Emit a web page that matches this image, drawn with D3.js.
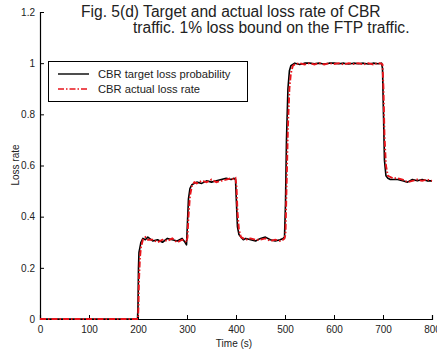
<!DOCTYPE html>
<html>
<head>
  <meta charset="utf-8">
  <title>Loss rate</title>
  <script src="https://d3js.org/d3.v7.min.js"></script>
  <style>
    body { margin: 0; background: #fff; }
    text { font-family: "Liberation Sans", Arial, sans-serif; fill: #222; }
  </style>
</head>
<body>
<script>
var time = [0, 100, 199, 200, 201, 202, 204, 206, 210, 215, 220, 230, 240, 250, 260, 270, 280, 290, 296, 299,
            301, 303, 306, 310, 315, 320, 330, 340, 350, 360, 370, 380, 390, 396, 399,
            401, 403, 406, 410, 415, 420, 430, 440, 450, 460, 470, 480, 490, 496, 499,
            501, 503, 506, 509, 512, 516, 520, 530, 540, 550, 560, 570, 580, 590, 600, 610, 620, 630, 640, 650, 660, 670, 680, 690, 697, 699,
            701, 703, 706, 710, 715, 720, 730, 740, 750, 760, 770, 780, 790, 800];

var targetLoss = [0, 0, 0, 0.05, 0.2, 0.26, 0.28, 0.30, 0.315, 0.31, 0.32, 0.305, 0.31, 0.30, 0.315, 0.31, 0.305, 0.315, 0.30, 0.29,
                  0.38, 0.47, 0.51, 0.525, 0.53, 0.535, 0.53, 0.54, 0.535, 0.54, 0.545, 0.55, 0.545, 0.55, 0.545,
                  0.45, 0.36, 0.33, 0.32, 0.31, 0.315, 0.31, 0.305, 0.315, 0.32, 0.31, 0.305, 0.31, 0.315, 0.32,
                  0.45, 0.7, 0.9, 0.97, 0.99, 0.995, 1.0, 0.995, 1.0, 1.0, 0.998, 1.0, 0.997, 1.0, 1.0, 0.998, 1.0, 0.997, 1.0, 0.998, 1.0, 0.997, 1.0, 0.998, 1.0, 0.98,
                  0.8, 0.62, 0.56, 0.55, 0.545, 0.545, 0.545, 0.54, 0.535, 0.545, 0.54, 0.545, 0.54, 0.54];

var actualLoss = [0, 0, 0, 0, 0.05, 0.15, 0.24, 0.28, 0.31, 0.32, 0.31, 0.31, 0.30, 0.31, 0.305, 0.315, 0.30, 0.31, 0.305, 0.30,
                  0.32, 0.40, 0.48, 0.52, 0.535, 0.53, 0.54, 0.535, 0.545, 0.535, 0.54, 0.545, 0.55, 0.545, 0.55,
                  0.52, 0.42, 0.35, 0.32, 0.315, 0.31, 0.315, 0.31, 0.31, 0.315, 0.305, 0.31, 0.305, 0.31, 0.315,
                  0.33, 0.5, 0.75, 0.9, 0.96, 0.99, 0.995, 1.0, 0.995, 1.0, 0.995, 1.0, 0.995, 1.0, 0.997, 1.0, 0.995, 1.0, 0.997, 1.0, 0.995, 1.0, 0.995, 1.0, 0.998, 0.995,
                  0.9, 0.72, 0.6, 0.56, 0.555, 0.55, 0.55, 0.545, 0.535, 0.54, 0.545, 0.54, 0.545, 0.54];

var xTicks = [0, 100, 200, 300, 400, 500, 600, 700, 800];
var yTicks = [0, 0.2, 0.4, 0.6, 0.8, 1, 1.2];
var seriesNames = ["CBR target loss probability", "CBR actual loss rate"];

var W = 437, H = 353;
var svg = d3.select("body").append("svg").attr("width", W).attr("height", H);

var x = d3.scaleLinear().domain([0, 800]).range([40, 432]);
var y = d3.scaleLinear().domain([0, 1.2]).range([319, 12]);

// axes, ticks pointing inward
var xAxis = svg.append("g").attr("transform", "translate(0," + y(0) + ")")
  .call(d3.axisBottom(x).tickValues(xTicks).tickSize(-4).tickPadding(7).tickFormat(d3.format("d")));
var yAxis = svg.append("g").attr("transform", "translate(" + x(0) + ",0)")
  .call(d3.axisLeft(y).tickValues(yTicks).tickSize(-4).tickPadding(5).tickFormat(function(d) { return d; }));
[xAxis, yAxis].forEach(function(a) {
  a.select(".domain").attr("stroke", "#000").attr("stroke-width", 1.2);
  a.selectAll(".tick line").attr("stroke", "#000");
  a.selectAll(".tick text").style("font-size", "10px").attr("fill", "#222");
});

var line = d3.line().x(function(d) { return x(d[0]); }).y(function(d) { return y(d[1]); });

svg.append("path")
  .attr("d", line(d3.zip(time, targetLoss)))
  .attr("fill", "none").attr("stroke", "#000").attr("stroke-width", 1.6)
  .attr("stroke-linejoin", "round");

svg.append("path")
  .attr("d", line(d3.zip(time, actualLoss)))
  .attr("fill", "none").attr("stroke", "#e8141b").attr("stroke-width", 1.9)
  .attr("stroke-dasharray", "6,2,1.5,2");

// legend
var lg = svg.append("g");
lg.append("rect").attr("x", 48.5).attr("y", 61.5).attr("width", 199).attr("height", 40)
  .attr("fill", "#fff").attr("stroke", "#000").attr("stroke-width", 1);
lg.append("line").attr("x1", 58).attr("x2", 89).attr("y1", 74).attr("y2", 74)
  .attr("stroke", "#000").attr("stroke-width", 1.4);
lg.append("line").attr("x1", 58).attr("x2", 89).attr("y1", 89).attr("y2", 89)
  .attr("stroke", "#e8141b").attr("stroke-width", 1.4).attr("stroke-dasharray", "6,2,1.5,2");
lg.selectAll("text.leg").data(seriesNames).enter().append("text")
  .attr("x", 98).attr("y", function(d, i) { return 78 + i * 15; })
  .style("font-size", "11.2px").text(function(d) { return d; });

// title
svg.append("text").attr("x", 81).attr("y", 17).style("font-size", "15.6px")
  .text("Fig. 5(d) Target and actual loss rate of CBR");
svg.append("text").attr("x", 133).attr("y", 33).style("font-size", "15.6px")
  .text("traffic. 1% loss bound on the FTP traffic.");

// axis labels
svg.append("text").attr("x", 234).attr("y", 347).attr("text-anchor", "middle")
  .style("font-size", "10px").text("Time (s)");
svg.append("text").attr("transform", "translate(19,165) rotate(-90)").attr("text-anchor", "middle")
  .style("font-size", "10px").text("Loss rate");
</script>
</body>
</html>
